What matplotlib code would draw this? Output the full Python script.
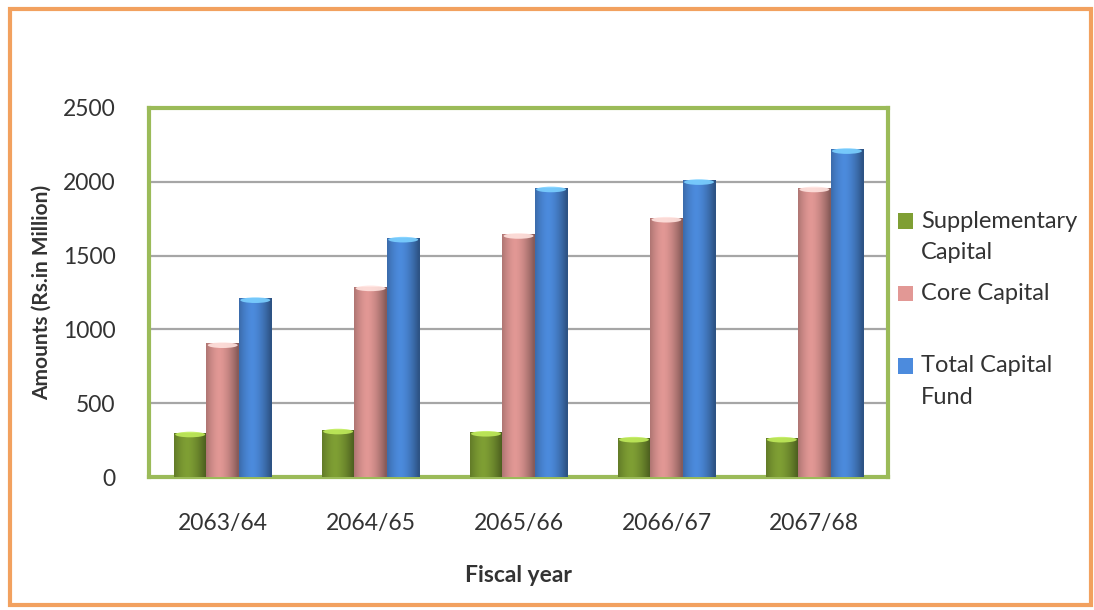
import matplotlib.pyplot as plt
import matplotlib.colors as mcolors
from matplotlib.patches import Rectangle, Ellipse, Patch
from matplotlib.legend_handler import HandlerPatch
import numpy as np

years = ["2063/64", "2064/65", "2065/66", "2066/67", "2067/68"]
supplementary = [300, 320, 305, 265, 265]
core = [905, 1290, 1645, 1755, 1960]
total = [1210, 1620, 1960, 2010, 2220]

series_names = ["Supplementary\nCapital", "Core Capital\n ", "Total Capital\nFund"]
series_colors = ["#7F9F34", "#E29895", "#4C8BDD"]

plt.rcParams['font.family'] = ['Lato', 'DejaVu Sans']
text_col = "#333333"


def shade(ax, bar, color):
    # horizontal gradient to give the column a rounded look
    x, y = bar.get_x(), bar.get_y()
    w, h = bar.get_width(), bar.get_height()
    base = np.array(mcolors.to_rgb(color))
    t = np.linspace(0, 1, 64)
    k = 1.0 - 0.45 * np.abs(t - 0.4) ** 1.6 * 2.2
    k = np.clip(k, 0.6, 1.1)
    rgb = np.clip(base[None, :] * k[:, None], 0, 1)
    img = rgb[None, :, :]
    im = ax.imshow(img, extent=[x, x + w, y, y + h], aspect='auto',
                   zorder=3, interpolation='bilinear')
    im.set_clip_path(bar)
    # lighter cap at the top of the column
    cap = Ellipse((x + w / 2, y + h - 12), w * 0.92, 38,
                  facecolor=np.clip(base * 1.35 + 0.08, 0, 1), edgecolor='none',
                  zorder=4, alpha=0.9)
    ax.add_patch(cap)


# legend keys sit next to the first line of each label
def top_key(legend, orig_handle, xdescent, ydescent, width, height, fontsize):
    return Rectangle((-xdescent, -ydescent + 11.5), width, height)


fig = plt.figure(figsize=(10.94, 6.10), dpi=100)
ax = fig.add_axes([0.136, 0.218, 0.676, 0.605])

x = np.arange(len(years))
w = 0.22
groups = [supplementary, core, total]
for i, (vals, col) in enumerate(zip(groups, series_colors)):
    bars = ax.bar(x + (i - 1) * w, vals, w, color=col, edgecolor='none', zorder=2)
    for b in bars:
        shade(ax, b, col)

ax.set_xlim(-0.5, len(years) - 0.5)
ax.set_ylim(0, 2500)
ax.set_yticks(np.arange(0, 2501, 500))
ax.set_xticks(x)
ax.set_xticklabels(years)
ax.yaxis.grid(True, color="#A6A6A6", lw=1.6, zorder=0)
ax.set_axisbelow(True)
ax.tick_params(length=0, labelsize=16.5, labelcolor=text_col)
ax.tick_params(axis='x', pad=26)
ax.tick_params(axis='y', pad=24)
for s in ax.spines.values():
    s.set_color("#9BBB59")
    s.set_linewidth(3)

ax.set_xlabel("Fiscal year", fontsize=16.5, fontweight='bold', color=text_col, labelpad=22)
ax.set_ylabel("Amounts (Rs.in Million)", fontsize=15, fontweight='bold', color=text_col,
              labelpad=8)

handles = [Patch(facecolor=c, edgecolor='none') for c in series_colors]
leg = fig.legend(handles, series_names, loc='center left', bbox_to_anchor=(0.801, 0.493),
                 frameon=False, fontsize=17, handlelength=0.65, handleheight=0.65,
                 handletextpad=0.35, labelspacing=0.85, labelcolor=text_col,
                 handler_map={Patch: HandlerPatch(patch_func=top_key)})
for t in leg.get_texts():
    t.set_linespacing(1.6)

# orange frame around the whole chart
fig.patches.append(Rectangle((0.009, 0.008), 0.988, 0.978, transform=fig.transFigure,
                             fill=False, edgecolor="#F2A15F", lw=3))

fig.savefig("out.png", dpi=100)
